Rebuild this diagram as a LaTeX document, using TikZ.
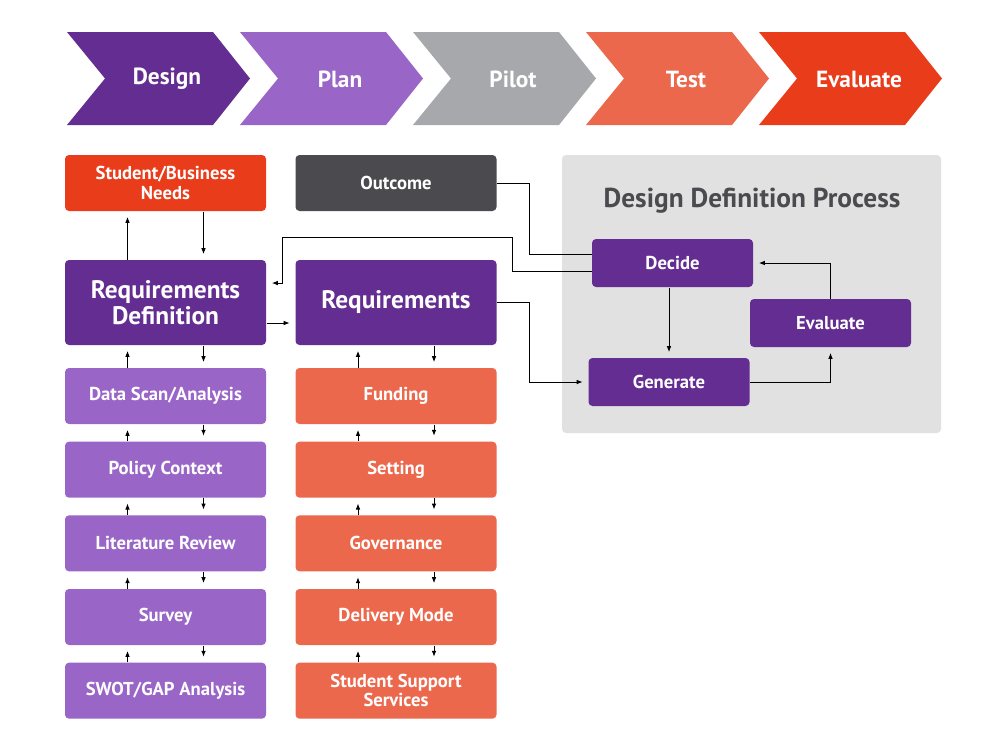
\documentclass[tikz,border=0pt]{standalone}
\usepackage{fontspec}
\setmainfont{PT Sans}
\usetikzlibrary{arrows.meta, positioning}
\definecolor{ddpurple}{HTML}{642D91}
\definecolor{ddlilac}{HTML}{9966C8}
\definecolor{ddgray}{HTML}{A7A8AB}
\definecolor{ddcoral}{HTML}{EB684C}
\definecolor{ddred}{HTML}{E93C1A}
\definecolor{dddark}{HTML}{4A4A4F}
\definecolor{ddpanel}{HTML}{E1E1E1}
\tikzset{
  box/.style={rectangle, rounded corners=3pt, text=white, align=center,
    font=\bfseries\fontsize{14}{14.5}\selectfont, inner sep=2pt,
    minimum width=150.75pt, minimum height=42pt},
  leftbox/.style={box, fill=ddlilac},
  rightbox/.style={box, fill=ddcoral},
  bigbox/.style={box, fill=ddpurple, minimum height=63.75pt,
    font=\bfseries\fontsize{19}{19}\selectfont},
  stepbox/.style={box, fill=ddpurple, minimum width=120.75pt, minimum height=36pt},
  link/.style={->, shorten >=4pt},
}

\begin{document}
\begin{tikzpicture}[x=0.75pt, y=-0.75pt, >={Latex[length=4.5pt,width=3.5pt]},
	line width=0.75pt, node distance=12.5pt]
	\useasboundingbox (0,0) rectangle (1000,750);

	% phases
	\foreach \name/\col [count=\i from 0] in {Design/ddpurple, Plan/ddlilac,
		Pilot/ddgray, Test/ddcoral, Evaluate/ddred}{
		\fill[\col] ({67+173*\i},32) -- ++(146,0) -- ++(37,46.5) -- ++(-37,46.5)
			-- ++(-146,0) -- ++(38,-46.5) -- cycle;
		\node[text=white, font=\bfseries\fontsize{17.5}{19}\selectfont] (phase\i)
			at ({167+173*\i},79) {\name};
	}

	% left column
	\node[box, fill=ddred] (needs) at (165.5,183) {Student/Business\\Needs};
	\node[bigbox] (rdef) at (165.5,302.5) {Requirements\\Definition};
	\node[leftbox, below=16.5pt of rdef] (scan) {Data Scan/Analysis};
	\node[leftbox, below=of scan] (policy) {Policy Context};
	\node[leftbox, below=of policy] (review) {Literature Review};
	\node[leftbox, below=of review] (survey) {Survey};
	\node[leftbox, below=of survey] (swot) {SWOT/GAP Analysis};

	% right column
	\node[box, fill=dddark] (outcome) at (396,183) {Outcome};
	\node[bigbox] (req) at (396,302.5) {Requirements};
	\node[rightbox, below=16.5pt of req] (funding) {Funding};
	\node[rightbox, below=of funding] (setting) {Setting};
	\node[rightbox, below=of setting] (governance) {Governance};
	\node[rightbox, below=of governance] (delivery) {Delivery Mode};
	\node[rightbox, below=of delivery] (support) {Student Support\\Services};

	\foreach \a/\b in {needs/rdef, rdef/scan, scan/policy, policy/review,
		review/survey, survey/swot, req/funding, funding/setting,
		setting/governance, governance/delivery, delivery/support}{
		\draw[link] ([xshift=-28.5pt]\b.north) -- ([xshift=-28.5pt]\a.south);
		\draw[link] ([xshift=28.5pt]\a.south) -- ([xshift=28.5pt]\b.north);
	}
	\draw[link] (rdef.east |- 0,323) -- (req.west |- 0,323);

	% design definition process
	\fill[ddpanel, rounded corners=3pt] (562,155) rectangle (941,433);
	\node[text=dddark, font=\bfseries\fontsize{20.5}{22}\selectfont] (title)
		at (752,201) {Design Definition Process};
	\node[stepbox] (decide) at (672.5,263) {Decide};
	\node[stepbox] (evaluate) at (830.5,323) {Evaluate};
	\node[stepbox] (generate) at (669,382) {Generate};

	\draw (outcome.east) -- (529,183) |- ([yshift=6.75pt]decide.west);
	\draw[link] ([yshift=-6pt]decide.west) -| (512,237) -- (282,237)
		|- ([yshift=14.6pt]rdef.east);
	\draw[link] (req.east) -- (529,302.5) |- (generate.west);
	\draw[link] (decide.south -| generate.north) -- (generate.north);
	\draw[link] (generate.east) -| (evaluate.south);
	\draw[link] (evaluate.north) |- (decide.east);
\end{tikzpicture}
\end{document}
